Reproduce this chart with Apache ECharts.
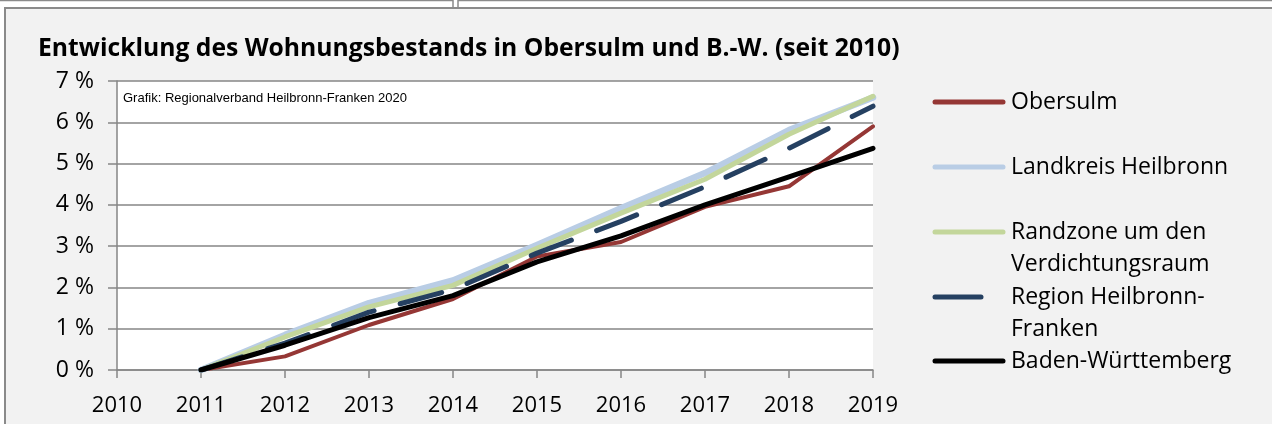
<!DOCTYPE html>
<html>
<head>
<meta charset="utf-8">
<script src="https://cdn.jsdelivr.net/npm/echarts@6/dist/echarts.min.js"></script>
<style>
  html, body { margin: 0; padding: 0; background: #ffffff; }
  #main { width: 1272px; height: 424px; }
</style>
</head>
<body>
<div id="main"></div>
<script>
// Wohnungsbestand, Veränderung gegenüber 2010 in %
var years = ['2010', '2011', '2012', '2013', '2014', '2015', '2016', '2017', '2018', '2019'];
var obersulm   = [null, 0, 0.33, 1.09, 1.72, 2.75, 3.10, 3.95, 4.45, 5.90];
var landkreis  = [null, 0, 0.85, 1.62, 2.17, 3.03, 3.92, 4.77, 5.81, 6.60];
var randzone   = [null, 0, 0.80, 1.53, 2.05, 2.95, 3.80, 4.62, 5.71, 6.63];
var region     = [null, 0, 0.65, 1.40, 1.95, 2.83, 3.60, 4.44, 5.37, 6.39];
var bw         = [null, 0, 0.60, 1.27, 1.80, 2.62, 3.25, 4.00, 4.68, 5.37];

var names = ['Obersulm', 'Landkreis Heilbronn', 'Randzone um den Verdichtungsraum', 'Region Heilbronn-Franken', 'Baden-Württemberg'];
var colors = ['#953735', '#b9cde5', '#c3d69b', '#254061', '#000000'];

var myChart = echarts.init(document.getElementById('main'));

var font = '"Open Sans", "Noto Sans", sans-serif';

function mkLine(name, data, color, width, dashed) {
    return {
        name: name,
        type: 'line',
        data: data,
        symbol: 'none',
        lineStyle: {
            color: color,
            width: width,
            type: dashed ? [43, 27] : 'solid',
            cap: 'round',
            join: 'round'
        },
        itemStyle: { color: color }
    };
}

// Legende (rechts) als Grafik, wie im Original mit Zeilenumbruch
var legendRows = [
    { y: 102, lines: ['Obersulm'] },
    { y: 167, lines: ['Landkreis Heilbronn'] },
    { y: 232, lines: ['Randzone um den', 'Verdichtungsraum'] },
    { y: 297, lines: ['Region Heilbronn-', 'Franken'] },
    { y: 361, lines: ['Baden-Württemberg'] }
];
var legendGraphics = [];
legendRows.forEach(function (r, i) {
    legendGraphics.push({
        type: 'line',
        shape: { x1: 935, y1: r.y, x2: i === 3 ? 981 : 1003, y2: r.y },
        style: { stroke: colors[i], lineWidth: 5, lineCap: 'round' }
    });
    r.lines.forEach(function (t, k) {
        legendGraphics.push({
            type: 'text',
            x: 1011,
            y: r.y + k * 32,
            style: { text: t, font: '23px ' + font, fill: '#000', textVerticalAlign: 'middle' }
        });
    });
});

option = {
    animation: false,
    backgroundColor: '#ffffff',
    title: {
        text: 'Entwicklung des Wohnungsbestands in Obersulm und B.-W. (seit 2010)',
        left: 33,
        top: 31,
        textStyle: { fontFamily: font, fontSize: 24.7, fontWeight: 'bold', color: '#000' }
    },
    grid: {
        left: 117,
        right: 399,
        top: 81,
        bottom: 54,
        show: true,
        backgroundColor: '#ffffff',
        borderWidth: 0
    },
    xAxis: {
        type: 'category',
        boundaryGap: false,
        data: years,
        axisLine: { lineStyle: { color: '#868686', width: 1.5 } },
        axisTick: { show: true, length: 8, inside: false, lineStyle: { color: '#868686', width: 1.5 } },
        axisLabel: { margin: 25, fontFamily: font, fontSize: 22, color: '#000' },
        splitLine: { show: false }
    },
    yAxis: {
        type: 'value',
        min: 0,
        max: 7,
        interval: 1,
        axisLine: { show: true, lineStyle: { color: '#868686', width: 1.5 } },
        axisTick: { show: true, length: 9, lineStyle: { color: '#868686', width: 1.5 } },
        axisLabel: { margin: 23, fontFamily: font, fontSize: 23, color: '#000', formatter: '{value} %' },
        splitLine: { lineStyle: { color: '#868686', width: 1.5 } }
    },
    graphic: [
        // Rahmen
        { type: 'rect', z: -10, shape: { x: 5, y: 8, width: 1280, height: 430 },
          style: { fill: '#f2f2f2', stroke: '#8a8a8a', lineWidth: 2 } },
        { type: 'polyline', z: -10, shape: { points: [[0, 0.5], [453, 0.5], [453, 7]] },
          style: { stroke: '#8a8a8a', lineWidth: 1.5, fill: null } },
        { type: 'polyline', z: -10, shape: { points: [[458, 7], [458, 0.5], [1272, 0.5]] },
          style: { stroke: '#8a8a8a', lineWidth: 1.5, fill: null } },
        { type: 'text', x: 123, y: 98,
          style: { text: 'Grafik: Regionalverband Heilbronn-Franken 2020', font: '13px "Liberation Sans", Arial, sans-serif',
                   fill: '#000', textVerticalAlign: 'middle' } }
    ].concat(legendGraphics),
    series: [
        mkLine(names[0], obersulm, colors[0], 4),
        mkLine(names[1], landkreis, colors[1], 6.5),
        mkLine(names[2], randzone, colors[2], 5),
        mkLine(names[3], region, colors[3], 5, true),
        mkLine(names[4], bw, colors[4], 5)
    ]
};

myChart.setOption(option);
window.onresize = myChart.resize;
</script>
</body>
</html>
